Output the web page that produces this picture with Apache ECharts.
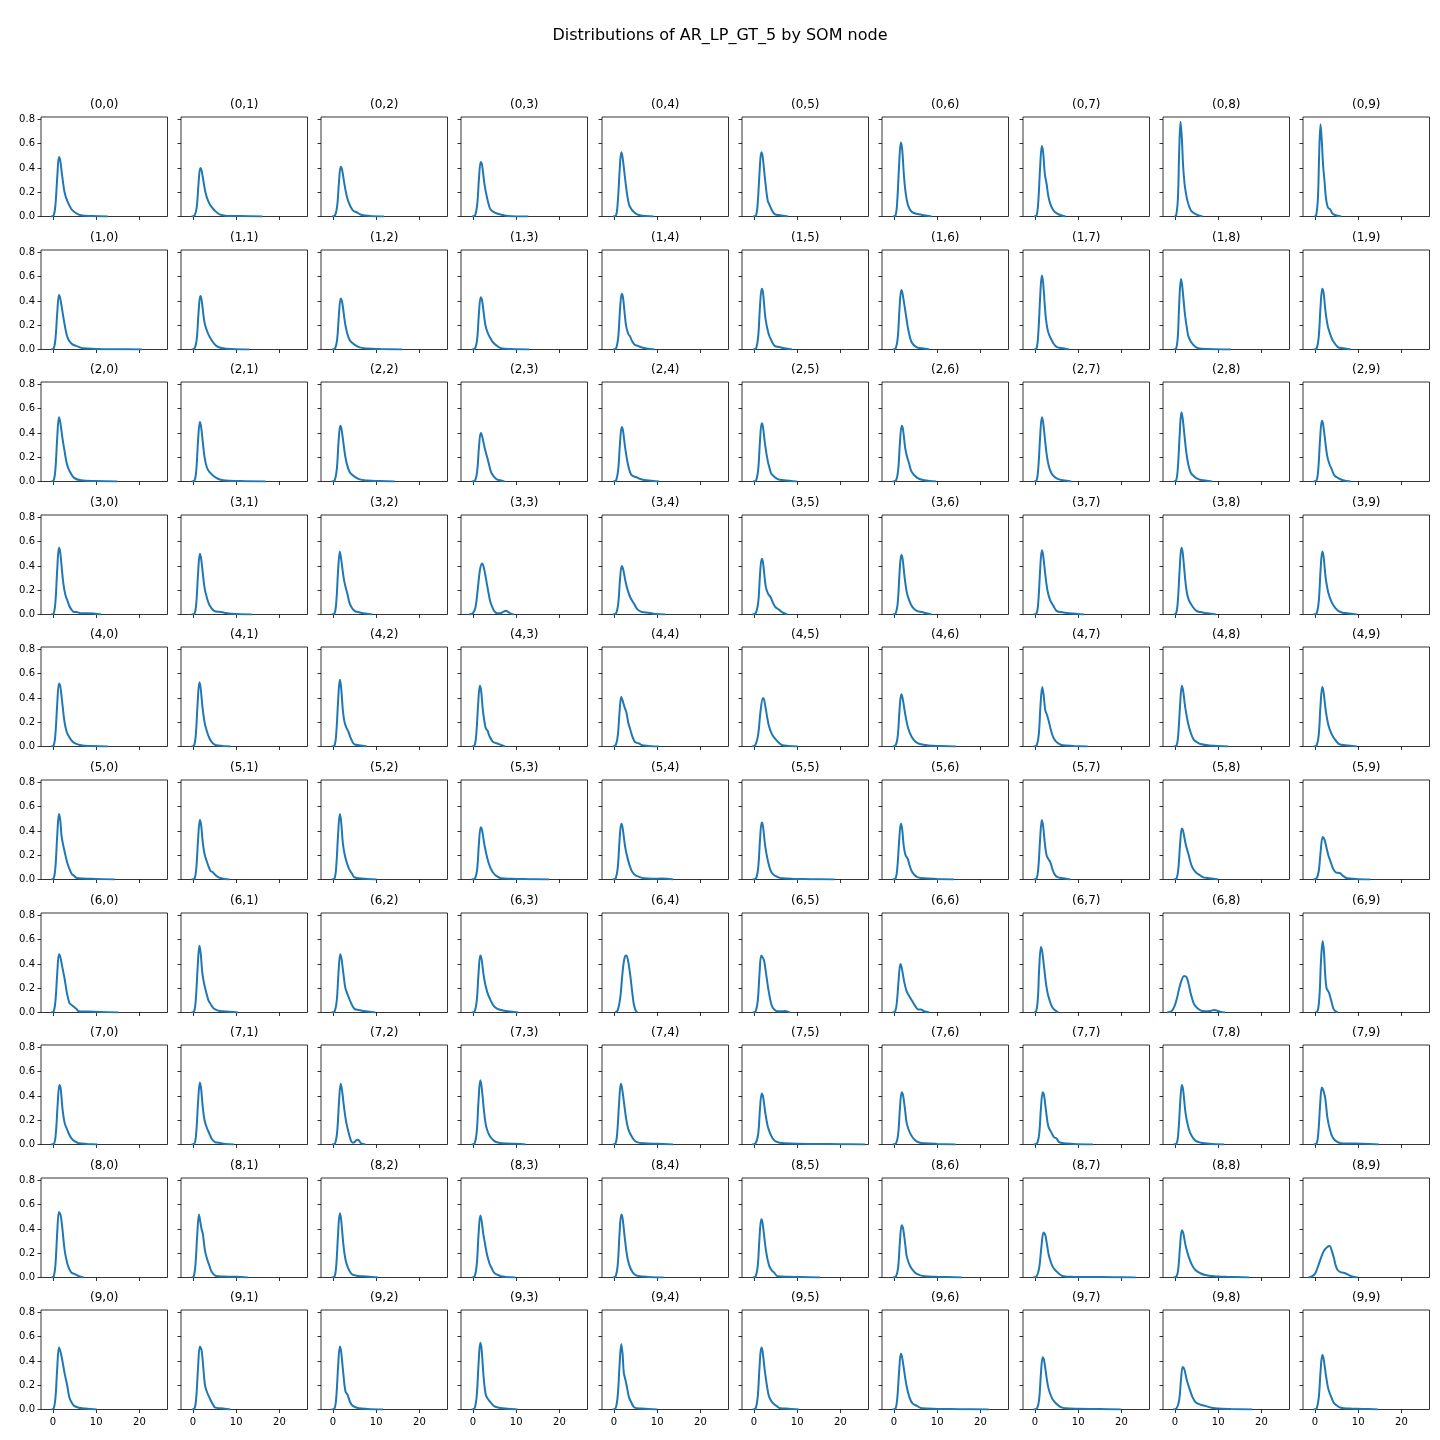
<!DOCTYPE html>
<html>
<head>
<meta charset="utf-8">
<script src="https://cdn.jsdelivr.net/npm/echarts@6/dist/echarts.min.js"></script>
<style>
html,body{margin:0;padding:0;background:#fff;}
#chart{width:1440px;height:1440px;}
</style>
</head>
<body>
<div id="chart"></div>
<script>
const chartTitle = 'Distributions of AR_LP_GT_5 by SOM node';
const xTicks = [0, 10, 20];
const yTicks = [0, 0.2, 0.4, 0.6, 0.8];
const xRange = [-2.75, 26.5];
const yRange = [0, 0.82];

// KDE curves, one array per SOM row; each curve is a list of [x, density] points
const row0 = [
 [[-0.4,0],[0.2,0.01],[0.6,0.1],[1.0,0.32],[1.4,0.49],[1.7,0.46],[2.2,0.32],[2.7,0.2],[3.3,0.13],[4.3,0.06],[5.4,0.027],[6.5,0.01],[9,0.004],[12.7,0]],
 [[-0.3,0],[0.4,0.01],[0.9,0.08],[1.3,0.27],[1.7,0.40],[2.0,0.38],[2.9,0.2],[3.5,0.13],[4.1,0.09],[5.3,0.04],[6.3,0.015],[8,0.005],[11,0.004],[16.1,0]],
 [[-0.2,0],[0.5,0.01],[1.0,0.09],[1.4,0.28],[1.8,0.41],[2.1,0.39],[2.9,0.22],[3.6,0.12],[4.6,0.05],[5.5,0.035],[6.5,0.015],[8.5,0.005],[11.8,0]],
 [[-0.2,0],[0.5,0.01],[1.0,0.1],[1.4,0.31],[1.8,0.45],[2.1,0.43],[2.7,0.26],[3.3,0.15],[3.9,0.07],[4.3,0.05],[5.2,0.03],[6,0.02],[8,0.005],[12.8,0]],
 [[-0.2,0],[0.5,0.01],[0.9,0.12],[1.3,0.36],[1.7,0.53],[2.0,0.49],[2.8,0.25],[3.3,0.13],[3.7,0.08],[4.8,0.03],[6,0.01],[9.2,0]],
 [[-0.2,0],[0.5,0.01],[0.9,0.12],[1.3,0.36],[1.7,0.53],[2.0,0.5],[2.6,0.3],[3.2,0.13],[3.7,0.09],[4.2,0.05],[4.8,0.02],[6,0.01],[7.9,0]],
 [[-0.2,0],[0.4,0.01],[0.8,0.14],[1.2,0.42],[1.6,0.61],[1.9,0.56],[2.3,0.35],[2.7,0.2],[3.3,0.09],[4.1,0.04],[5.5,0.02],[8.7,0]],
 [[-0.2,0],[0.4,0.01],[0.8,0.13],[1.2,0.4],[1.6,0.58],[1.9,0.53],[2.3,0.35],[2.7,0.27],[3.1,0.17],[3.6,0.1],[4.3,0.05],[4.9,0.03],[6,0.01],[7.1,0]],
 [[-0.1,0],[0.3,0.01],[0.7,0.15],[1.0,0.55],[1.3,0.78],[1.6,0.65],[1.9,0.42],[2.3,0.25],[2.9,0.13],[3.7,0.05],[4.8,0.02],[6.4,0]],
 [[-0.1,0],[0.3,0.01],[0.7,0.15],[1.0,0.53],[1.3,0.76],[1.6,0.62],[1.9,0.42],[2.2,0.3],[2.5,0.17],[2.8,0.1],[3.1,0.07],[3.5,0.06],[4.2,0.02],[6.1,0]]
];
const row1 = [
 [[-0.4,0],[0.2,0.01],[0.6,0.09],[1.0,0.3],[1.4,0.45],[1.7,0.42],[2.5,0.25],[3.2,0.12],[3.8,0.07],[4.6,0.04],[5.4,0.03],[7,0.01],[10,0.005],[14,0.002],[20.6,0]],
 [[-0.3,0],[0.4,0.01],[0.9,0.09],[1.3,0.3],[1.7,0.44],[2.0,0.41],[2.7,0.22],[3.4,0.14],[4.1,0.09],[5.4,0.03],[7,0.01],[9,0.004],[13,0]],
 [[-0.2,0],[0.5,0.01],[1.0,0.09],[1.4,0.29],[1.8,0.42],[2.1,0.4],[2.9,0.2],[3.6,0.1],[4.3,0.06],[6,0.02],[8,0.008],[11,0.004],[16,0]],
 [[-0.2,0],[0.5,0.01],[1.0,0.09],[1.4,0.3],[1.8,0.43],[2.1,0.41],[2.9,0.2],[3.5,0.13],[4.1,0.09],[4.6,0.06],[5.2,0.04],[6.5,0.01],[9,0.004],[13,0]],
 [[-0.2,0],[0.5,0.01],[1.0,0.1],[1.4,0.32],[1.8,0.46],[2.1,0.43],[2.8,0.2],[3.3,0.13],[3.7,0.11],[4.2,0.07],[4.8,0.04],[5.5,0.03],[6.7,0.015],[9.4,0]],
 [[-0.2,0],[0.5,0.01],[1.0,0.11],[1.4,0.35],[1.8,0.5],[2.1,0.47],[2.7,0.25],[3.4,0.13],[4.1,0.07],[4.8,0.03],[5.9,0.02],[7,0.01],[8.8,0]],
 [[-0.3,0],[0.4,0.01],[0.9,0.1],[1.3,0.34],[1.7,0.49],[2.0,0.46],[2.8,0.28],[3.4,0.15],[4.1,0.06],[5.2,0.02],[6.5,0.01],[8.2,0]],
 [[-0.2,0],[0.4,0.01],[0.8,0.14],[1.2,0.42],[1.6,0.61],[1.9,0.55],[2.5,0.27],[2.9,0.17],[3.3,0.12],[4.3,0.05],[5.1,0.02],[6.5,0.01],[7.9,0]],
 [[-0.3,0],[0.3,0.01],[0.7,0.12],[1.0,0.38],[1.4,0.58],[1.7,0.52],[2.3,0.3],[2.8,0.17],[3.2,0.1],[4.2,0.04],[5.4,0.01],[8,0.004],[13,0]],
 [[-0.3,0],[0.4,0.01],[0.9,0.11],[1.3,0.35],[1.7,0.5],[2.0,0.47],[2.5,0.3],[3.0,0.19],[3.6,0.12],[4.2,0.07],[5.3,0.02],[6.5,0.01],[8.3,0]]
];
const row2 = [
 [[-0.4,0],[0.2,0.01],[0.6,0.11],[1.0,0.36],[1.4,0.53],[1.7,0.49],[2.2,0.36],[2.7,0.25],[3.2,0.15],[3.8,0.09],[4.9,0.03],[6.5,0.01],[10,0.004],[14.9,0]],
 [[-0.3,0],[0.4,0.01],[0.8,0.1],[1.2,0.34],[1.6,0.49],[1.9,0.45],[2.7,0.2],[3.2,0.12],[3.8,0.08],[5.4,0.03],[7,0.01],[11,0.004],[16.8,0]],
 [[-0.3,0],[0.4,0.01],[0.9,0.1],[1.3,0.32],[1.7,0.46],[2.0,0.43],[2.9,0.2],[3.6,0.1],[4.3,0.06],[6,0.02],[8,0.008],[11,0.004],[14.3,0]],
 [[-0.3,0],[0.5,0.01],[1.0,0.09],[1.4,0.28],[1.8,0.4],[2.1,0.38],[2.7,0.28],[3.3,0.2],[3.8,0.13],[4.3,0.07],[5.4,0.02],[6.3,0.01],[7.3,0]],
 [[-0.2,0],[0.5,0.01],[1.0,0.1],[1.4,0.31],[1.8,0.45],[2.1,0.42],[2.6,0.28],[3.2,0.15],[3.7,0.08],[4.2,0.05],[5.2,0.035],[6.1,0.02],[7.5,0.01],[10.5,0]],
 [[-0.2,0],[0.5,0.01],[1.0,0.1],[1.4,0.33],[1.8,0.48],[2.1,0.45],[2.6,0.3],[3.2,0.17],[3.7,0.1],[4.1,0.06],[5.5,0.02],[7,0.01],[9.9,0]],
 [[-0.3,0],[0.5,0.01],[1.0,0.1],[1.4,0.32],[1.8,0.46],[2.1,0.43],[2.6,0.28],[3.0,0.21],[3.5,0.15],[4.1,0.08],[5.4,0.03],[7,0.01],[9.8,0]],
 [[-0.2,0],[0.4,0.01],[0.8,0.12],[1.2,0.36],[1.6,0.53],[1.9,0.49],[2.7,0.23],[3.2,0.13],[3.8,0.07],[4.5,0.04],[5.4,0.02],[6.5,0.01],[8.4,0]],
 [[-0.3,0],[0.3,0.01],[0.7,0.12],[1.1,0.38],[1.5,0.57],[1.8,0.52],[2.6,0.25],[3.1,0.14],[3.7,0.07],[4.5,0.04],[5.4,0.02],[6.5,0.01],[8.6,0]],
 [[-0.3,0],[0.4,0.01],[0.8,0.11],[1.2,0.35],[1.6,0.5],[1.9,0.47],[2.8,0.22],[3.3,0.15],[3.9,0.1],[4.5,0.05],[5.3,0.03],[6.5,0.01],[8.3,0]]
];
const row3 = [
 [[-0.4,0],[0.2,0.01],[0.6,0.11],[1.0,0.37],[1.4,0.55],[1.7,0.51],[2.4,0.26],[2.9,0.16],[3.3,0.12],[3.8,0.07],[4.3,0.04],[4.9,0.02],[5.4,0.02],[6.5,0.01],[8,0.01],[11.2,0]],
 [[-0.3,0],[0.4,0.01],[0.8,0.1],[1.2,0.34],[1.6,0.5],[1.9,0.46],[2.7,0.22],[3.3,0.13],[3.8,0.08],[4.9,0.03],[6.5,0.02],[9,0.006],[13.6,0]],
 [[-0.3,0],[0.4,0.01],[0.8,0.11],[1.2,0.36],[1.6,0.52],[1.9,0.46],[2.5,0.3],[2.9,0.23],[3.3,0.18],[3.8,0.1],[4.3,0.06],[5,0.03],[5.8,0.02],[7,0.01],[9.1,0]],
 [[-0.9,0],[0,0.01],[0.6,0.06],[1.1,0.2],[1.6,0.36],[2.1,0.42],[2.5,0.39],[3.0,0.3],[3.5,0.2],[4.0,0.11],[4.5,0.06],[5.0,0.025],[5.6,0.01],[6.3,0.01],[6.9,0.02],[7.6,0.03],[8.2,0.02],[8.8,0.007],[9.5,0]],
 [[-0.3,0],[0.5,0.01],[1.0,0.09],[1.4,0.28],[1.8,0.4],[2.1,0.38],[2.7,0.27],[3.2,0.2],[3.8,0.14],[4.8,0.08],[5.5,0.04],[6.5,0.02],[8,0.015],[9.5,0.005],[11.9,0]],
 [[-0.4,0],[0.4,0.01],[1.0,0.1],[1.4,0.32],[1.8,0.46],[2.1,0.43],[2.5,0.3],[2.8,0.22],[3.3,0.17],[3.9,0.14],[4.5,0.09],[5,0.06],[5.8,0.04],[6.5,0.02],[7.7,0]],
 [[-0.3,0],[0.4,0.01],[0.9,0.1],[1.3,0.34],[1.7,0.49],[2.0,0.46],[2.5,0.3],[3.0,0.18],[3.6,0.11],[4.3,0.06],[5.3,0.03],[6.5,0.02],[7.5,0.01],[8.7,0]],
 [[-0.3,0],[0.4,0.01],[0.8,0.11],[1.2,0.36],[1.6,0.53],[1.9,0.49],[2.4,0.33],[2.9,0.2],[3.5,0.12],[4.3,0.07],[5,0.03],[6,0.02],[8,0.01],[11.4,0]],
 [[-0.3,0],[0.3,0.01],[0.7,0.12],[1.1,0.37],[1.5,0.55],[1.8,0.51],[2.6,0.22],[3.2,0.12],[4.2,0.06],[5,0.03],[5.9,0.02],[7.5,0.01],[9.5,0]],
 [[-0.3,0],[0.4,0.01],[0.9,0.11],[1.3,0.36],[1.7,0.52],[2.0,0.48],[2.5,0.3],[3.1,0.18],[3.9,0.1],[4.8,0.05],[5.6,0.025],[6.4,0.015],[7.5,0.01],[9.7,0]]
];
const row4 = [
 [[-0.4,0],[0.2,0.01],[0.6,0.11],[1.0,0.35],[1.4,0.52],[1.7,0.5],[2.2,0.35],[2.7,0.2],[3.2,0.12],[3.6,0.09],[4.3,0.05],[4.9,0.03],[6.5,0.01],[9,0.004],[12.7,0]],
 [[-0.3,0],[0.3,0.01],[0.7,0.11],[1.1,0.36],[1.5,0.53],[1.8,0.48],[2.2,0.33],[2.7,0.2],[3.2,0.13],[3.8,0.07],[4.5,0.03],[5.4,0.01],[7,0.005],[8.7,0]],
 [[-0.3,0],[0.4,0.01],[0.8,0.12],[1.2,0.37],[1.6,0.55],[1.9,0.49],[2.3,0.3],[2.7,0.2],[3.2,0.15],[3.6,0.12],[4.0,0.08],[4.5,0.04],[4.9,0.02],[6,0.01],[7.9,0]],
 [[-0.3,0],[0.4,0.01],[0.8,0.11],[1.2,0.34],[1.6,0.5],[1.9,0.46],[2.3,0.3],[2.7,0.2],[3.0,0.15],[3.4,0.13],[3.9,0.08],[4.6,0.04],[5.2,0.03],[6,0.02],[6.7,0.01],[7.4,0]],
 [[-0.3,0],[0.4,0.01],[0.9,0.09],[1.3,0.28],[1.7,0.41],[2.0,0.38],[2.5,0.32],[2.9,0.28],[3.3,0.2],[3.7,0.15],[4.3,0.08],[4.8,0.04],[5.3,0.03],[5.8,0.025],[6.5,0.01],[8,0.005],[10.4,0]],
 [[-0.5,0],[0.3,0.01],[1.0,0.1],[1.5,0.28],[2.1,0.4],[2.4,0.38],[3.4,0.18],[4.2,0.1],[5,0.06],[5.8,0.03],[6.6,0.01],[8,0.005],[10.1,0]],
 [[-0.3,0],[0.4,0.01],[0.9,0.09],[1.3,0.3],[1.7,0.43],[2.0,0.4],[2.7,0.25],[3.3,0.15],[4.1,0.08],[5,0.04],[6,0.02],[8,0.008],[11,0.004],[14.3,0]],
 [[-0.3,0],[0.4,0.01],[0.9,0.1],[1.3,0.34],[1.7,0.49],[2.0,0.43],[2.4,0.3],[2.8,0.26],[3.2,0.21],[3.6,0.15],[4.2,0.08],[4.9,0.04],[5.7,0.02],[6.5,0.01],[9,0.005],[12.2,0]],
 [[-0.3,0],[0.4,0.01],[0.8,0.11],[1.2,0.34],[1.6,0.5],[1.9,0.46],[2.4,0.32],[3.0,0.2],[3.6,0.12],[4.3,0.06],[5.1,0.035],[5.9,0.02],[8,0.008],[12.4,0]],
 [[-0.3,0],[0.4,0.01],[0.9,0.1],[1.3,0.34],[1.7,0.49],[2.0,0.45],[2.5,0.3],[3.1,0.18],[3.9,0.1],[4.8,0.05],[5.6,0.02],[7,0.01],[9.7,0]]
];
const row5 = [
 [[-0.4,0],[0.2,0.01],[0.6,0.11],[1.0,0.36],[1.4,0.54],[1.7,0.49],[2.0,0.36],[2.4,0.28],[2.9,0.2],[3.3,0.14],[3.8,0.09],[4.3,0.05],[4.9,0.03],[5.4,0.015],[7,0.008],[10,0.005],[14.3,0]],
 [[-0.3,0],[0.4,0.01],[0.8,0.1],[1.2,0.33],[1.6,0.49],[1.9,0.45],[2.3,0.3],[2.7,0.21],[3.2,0.15],[3.7,0.1],[4.1,0.07],[4.6,0.06],[5.4,0.03],[6.5,0.01],[8.4,0]],
 [[-0.3,0],[0.4,0.01],[0.8,0.12],[1.2,0.37],[1.6,0.54],[1.9,0.48],[2.3,0.3],[2.7,0.21],[3.2,0.14],[3.6,0.1],[4.0,0.07],[4.4,0.05],[4.9,0.02],[6,0.01],[8,0.005],[10.1,0]],
 [[-0.3,0],[0.5,0.01],[1.0,0.09],[1.4,0.3],[1.8,0.43],[2.1,0.41],[2.7,0.28],[3.3,0.18],[4.0,0.1],[4.6,0.06],[5.4,0.03],[6.5,0.01],[9,0.006],[13,0.003],[17.6,0]],
 [[-0.3,0],[0.4,0.01],[0.9,0.1],[1.3,0.32],[1.7,0.46],[2.0,0.43],[2.6,0.27],[3.2,0.17],[4.0,0.08],[4.8,0.04],[6,0.02],[7,0.01],[9,0.006],[11,0.008],[13.7,0]],
 [[-0.3,0],[0.5,0.01],[1.0,0.1],[1.4,0.32],[1.8,0.47],[2.1,0.44],[2.6,0.28],[3.2,0.16],[3.8,0.08],[4.5,0.04],[5.5,0.02],[6.6,0.01],[9,0.005],[13,0.003],[18.6,0]],
 [[-0.3,0],[0.4,0.01],[0.8,0.1],[1.2,0.31],[1.6,0.46],[1.9,0.42],[2.3,0.27],[2.7,0.2],[3.2,0.17],[3.6,0.12],[4.1,0.07],[4.7,0.04],[5.4,0.02],[7,0.01],[10,0.005],[13.9,0]],
 [[-0.3,0],[0.4,0.01],[0.8,0.1],[1.2,0.33],[1.6,0.49],[1.9,0.44],[2.3,0.3],[2.7,0.2],[3.1,0.17],[3.6,0.14],[4.1,0.08],[4.6,0.04],[5.2,0.02],[6.5,0.01],[8.2,0]],
 [[-0.3,0],[0.4,0.01],[0.8,0.09],[1.2,0.29],[1.6,0.42],[1.9,0.4],[2.5,0.29],[3.2,0.2],[3.9,0.11],[4.8,0.06],[5.6,0.04],[6.4,0.02],[8,0.01],[10,0]],
 [[-0.4,0],[0.4,0.01],[0.9,0.07],[1.3,0.22],[1.8,0.35],[2.2,0.33],[2.7,0.26],[3.1,0.2],[3.6,0.15],[4.2,0.09],[4.8,0.06],[5.4,0.055],[5.9,0.05],[6.5,0.03],[7.5,0.01],[9.5,0.005],[12.8,0]]
];
const row6 = [
 [[-0.4,0],[0.2,0.01],[0.6,0.1],[1.0,0.32],[1.4,0.48],[1.7,0.46],[2.2,0.37],[2.7,0.28],[3.2,0.17],[3.8,0.08],[4.4,0.06],[5.4,0.03],[6,0.01],[8,0.008],[11,0.005],[15.2,0]],
 [[-0.3,0],[0.3,0.01],[0.7,0.12],[1.1,0.37],[1.5,0.55],[1.8,0.49],[2.2,0.32],[2.7,0.22],[3.2,0.15],[3.6,0.1],[4.1,0.07],[4.9,0.03],[5.9,0.015],[7,0.01],[10.4,0]],
 [[-0.3,0],[0.4,0.01],[0.9,0.1],[1.3,0.33],[1.7,0.48],[2.0,0.44],[2.5,0.3],[2.9,0.2],[3.5,0.14],[4.3,0.07],[5,0.03],[6,0.02],[7.5,0.01],[9.8,0]],
 [[-0.3,0],[0.4,0.01],[0.9,0.1],[1.3,0.32],[1.7,0.47],[2.0,0.44],[2.6,0.28],[3.3,0.17],[4.1,0.1],[4.9,0.05],[5.7,0.03],[6.5,0.02],[8,0.01],[10.5,0]],
 [[0.3,0],[0.9,0.02],[1.5,0.13],[2.0,0.33],[2.4,0.44],[2.8,0.47],[3.2,0.44],[3.7,0.33],[4.2,0.18],[4.6,0.07],[5.0,0.02],[5.4,0]],
 [[-0.3,0],[0.4,0.01],[0.9,0.1],[1.3,0.32],[1.7,0.47],[2.1,0.45],[2.4,0.42],[2.9,0.3],[3.4,0.18],[4.1,0.06],[4.7,0.025],[5.5,0.01],[6.4,0.01],[7.2,0.012],[8.3,0]],
 [[-0.4,0],[0.3,0.01],[0.7,0.09],[1.1,0.27],[1.5,0.4],[1.8,0.37],[2.4,0.25],[2.9,0.18],[3.3,0.15],[3.8,0.12],[4.3,0.09],[5,0.05],[5.6,0.025],[6.2,0.025],[7,0.01],[8.2,0]],
 [[-0.2,0],[0.3,0.01],[0.7,0.12],[1.0,0.37],[1.4,0.54],[1.7,0.5],[2.2,0.35],[2.6,0.23],[3.0,0.15],[3.4,0.1],[3.8,0.06],[4.3,0.03],[5.4,0]],
 [[-1.8,0],[-0.8,0.01],[-0.1,0.05],[0.5,0.12],[1.0,0.2],[1.6,0.27],[2.1,0.3],[2.7,0.29],[3.2,0.23],[3.7,0.15],[4.3,0.08],[4.8,0.05],[5.6,0.025],[6.4,0.012],[7.5,0.01],[8.4,0.015],[9.1,0.02],[9.8,0.015],[10.5,0.005],[11.6,0]],
 [[0.2,0],[0.7,0.02],[1.1,0.16],[1.4,0.42],[1.8,0.59],[2.1,0.5],[2.4,0.3],[2.7,0.2],[3.0,0.18],[3.3,0.16],[3.6,0.12],[3.9,0.08],[4.3,0.03],[4.8,0.01],[5.3,0]]
];
const row7 = [
 [[-0.4,0],[0.3,0.01],[0.7,0.1],[1.1,0.33],[1.5,0.49],[1.8,0.46],[2.2,0.3],[2.7,0.18],[3.2,0.13],[3.8,0.08],[4.3,0.05],[4.9,0.03],[6,0.01],[8,0.005],[10.3,0]],
 [[-0.3,0],[0.4,0.01],[0.8,0.11],[1.2,0.35],[1.6,0.51],[1.9,0.46],[2.3,0.3],[2.7,0.2],[3.2,0.14],[3.8,0.09],[4.3,0.05],[5.1,0.02],[6,0.015],[7.5,0.005],[9.5,0]],
 [[-0.2,0],[0.5,0.01],[1.0,0.11],[1.4,0.34],[1.8,0.5],[2.1,0.45],[2.6,0.3],[3.1,0.18],[3.7,0.09],[4.2,0.03],[4.6,0.015],[5.0,0.02],[5.4,0.035],[5.7,0.04],[6.1,0.03],[6.5,0.01],[7.0,0.005],[7.5,0]],
 [[-0.3,0],[0.4,0.01],[0.9,0.11],[1.3,0.36],[1.7,0.53],[2.0,0.48],[2.5,0.3],[2.9,0.18],[3.3,0.12],[3.9,0.07],[4.9,0.03],[6,0.015],[8,0.008],[10,0.006],[12.2,0]],
 [[-0.3,0],[0.4,0.01],[0.8,0.11],[1.2,0.34],[1.6,0.5],[1.9,0.46],[2.8,0.22],[3.3,0.13],[3.9,0.08],[4.6,0.04],[5.3,0.02],[7,0.01],[10,0.006],[13.7,0]],
 [[-0.4,0],[0.4,0.01],[1.0,0.09],[1.4,0.29],[1.8,0.42],[2.1,0.4],[2.6,0.27],[3.2,0.15],[3.9,0.08],[4.8,0.03],[6,0.015],[7.2,0.01],[10,0.006],[15,0.004],[20,0.003],[25.7,0]],
 [[-0.3,0],[0.5,0.01],[1.0,0.09],[1.4,0.3],[1.8,0.43],[2.1,0.41],[2.6,0.28],[3.0,0.17],[3.8,0.09],[4.9,0.035],[6,0.015],[7.1,0.01],[10,0.005],[14.3,0]],
 [[-0.3,0],[0.5,0.01],[1.0,0.09],[1.4,0.3],[1.8,0.43],[2.1,0.41],[2.6,0.27],[3.1,0.15],[3.8,0.1],[4.4,0.06],[5.0,0.05],[5.6,0.02],[6.6,0.01],[9,0.005],[13.4,0]],
 [[-0.3,0],[0.4,0.01],[0.8,0.1],[1.2,0.33],[1.6,0.49],[1.9,0.45],[2.5,0.25],[3.2,0.13],[3.9,0.07],[4.8,0.03],[6,0.015],[8,0.006],[11.4,0]],
 [[-0.3,0],[0.4,0.01],[0.8,0.1],[1.2,0.32],[1.6,0.47],[2.0,0.44],[2.4,0.38],[2.9,0.22],[3.5,0.12],[4.1,0.06],[4.8,0.03],[6,0.01],[8,0.008],[11,0.006],[14.8,0]]
];
const row8 = [
 [[-0.3,0],[0.2,0.01],[0.6,0.11],[1.0,0.37],[1.4,0.54],[1.8,0.51],[2.2,0.4],[2.7,0.23],[3.3,0.12],[3.8,0.07],[4.3,0.04],[5,0.03],[6,0.01],[7.1,0]],
 [[-0.3,0],[0.2,0.01],[0.6,0.11],[1.0,0.35],[1.4,0.52],[1.7,0.46],[2.0,0.4],[2.3,0.36],[2.8,0.22],[3.3,0.15],[3.8,0.1],[4.3,0.05],[5.4,0.012],[7,0.008],[10,0.006],[12.7,0]],
 [[-0.3,0],[0.4,0.01],[0.8,0.11],[1.2,0.36],[1.6,0.53],[1.9,0.48],[2.4,0.28],[2.9,0.15],[3.5,0.08],[4.3,0.03],[5.4,0.015],[7,0.01],[10.5,0]],
 [[-0.3,0],[0.4,0.01],[0.9,0.11],[1.3,0.35],[1.7,0.51],[2.0,0.47],[2.4,0.36],[2.7,0.3],[3.2,0.2],[3.8,0.12],[4.3,0.08],[4.9,0.04],[5.5,0.025],[6.5,0.01],[7.5,0.005],[9.8,0]],
 [[-0.3,0],[0.4,0.01],[0.9,0.11],[1.3,0.36],[1.7,0.52],[2.0,0.49],[2.6,0.3],[3.2,0.15],[3.9,0.07],[4.8,0.025],[6,0.01],[8,0.005],[11.5,0]],
 [[-0.3,0],[0.4,0.01],[0.9,0.1],[1.3,0.33],[1.7,0.48],[2.0,0.45],[2.8,0.22],[3.5,0.1],[4.1,0.06],[4.7,0.04],[5.5,0.01],[8,0.006],[11,0.004],[15.3,0]],
 [[-0.3,0],[0.5,0.01],[1.0,0.09],[1.4,0.3],[1.8,0.43],[2.1,0.41],[2.6,0.28],[3.0,0.17],[3.8,0.09],[4.9,0.04],[6,0.02],[7.1,0.01],[10,0.006],[15.7,0]],
 [[-0.4,0],[0.4,0.01],[1.0,0.08],[1.5,0.25],[2.0,0.37],[2.4,0.35],[2.8,0.27],[3.3,0.17],[4.1,0.09],[5,0.05],[5.8,0.025],[6.6,0.01],[9,0.005],[13,0.004],[18,0.003],[23.3,0]],
 [[-0.4,0],[0.4,0.01],[0.8,0.08],[1.2,0.26],[1.6,0.39],[1.9,0.37],[2.5,0.26],[3.2,0.17],[4.0,0.1],[4.8,0.06],[5.9,0.035],[7,0.02],[9,0.01],[12,0.006],[17.2,0]],
 [[-1.5,0],[-0.7,0.01],[0,0.03],[0.5,0.07],[1.0,0.12],[1.6,0.18],[2.1,0.22],[2.8,0.25],[3.4,0.26],[3.9,0.22],[4.4,0.16],[4.8,0.1],[5.3,0.06],[5.9,0.045],[6.5,0.04],[7.0,0.035],[7.5,0.025],[8.1,0.015],[8.6,0.008],[9.9,0]]
];
const row9 = [
 [[-0.3,0],[0.2,0.01],[0.6,0.1],[1.0,0.34],[1.4,0.51],[1.8,0.47],[2.2,0.4],[2.7,0.3],[3.3,0.2],[3.8,0.1],[4.3,0.06],[4.9,0.03],[6,0.015],[7.5,0.008],[10.1,0]],
 [[-0.2,0],[0.4,0.01],[0.8,0.11],[1.2,0.35],[1.6,0.52],[2.0,0.49],[2.4,0.35],[2.8,0.2],[3.3,0.14],[3.8,0.1],[4.5,0.05],[5.2,0.015],[6.5,0.01],[8.7,0]],
 [[-0.3,0],[0.4,0.01],[0.8,0.11],[1.2,0.35],[1.6,0.52],[1.9,0.48],[2.4,0.3],[2.9,0.15],[3.4,0.12],[4.0,0.06],[4.6,0.03],[6,0.01],[8,0.005],[11.6,0]],
 [[-0.3,0],[0.4,0.01],[0.9,0.12],[1.3,0.37],[1.7,0.55],[2.0,0.5],[2.5,0.26],[3.0,0.12],[3.6,0.08],[4.3,0.05],[5,0.025],[6,0.015],[8,0.006],[10.3,0]],
 [[-0.3,0],[0.4,0.01],[0.9,0.12],[1.3,0.36],[1.7,0.54],[2.0,0.46],[2.3,0.3],[2.7,0.24],[3.1,0.17],[3.5,0.1],[4.0,0.06],[4.8,0.015],[6.5,0.008],[10,0]],
 [[-0.3,0],[0.4,0.01],[0.9,0.11],[1.3,0.35],[1.7,0.51],[2.0,0.48],[2.6,0.3],[3.4,0.12],[4.0,0.07],[4.5,0.05],[5.2,0.03],[6.1,0.01],[7.5,0.008],[10.4,0]],
 [[-0.3,0],[0.4,0.01],[0.8,0.1],[1.2,0.31],[1.6,0.46],[1.9,0.43],[2.9,0.2],[3.6,0.1],[4.3,0.05],[5.3,0.03],[6.5,0.01],[10,0.005],[15,0.003],[21.9,0]],
 [[-0.3,0],[0.5,0.01],[1.0,0.09],[1.4,0.3],[1.8,0.43],[2.1,0.41],[3.1,0.18],[4.0,0.09],[4.9,0.05],[6,0.02],[7.1,0.01],[10,0.006],[15,0.004],[19.9,0]],
 [[-0.4,0],[0.4,0.01],[1.0,0.08],[1.4,0.24],[1.8,0.35],[2.2,0.33],[2.7,0.25],[3.3,0.18],[4.1,0.1],[4.8,0.06],[5.9,0.04],[7,0.03],[8.5,0.015],[10,0.008],[13,0.004],[17.9,0]],
 [[-0.3,0],[0.4,0.01],[0.9,0.1],[1.3,0.31],[1.7,0.45],[2.0,0.42],[2.6,0.27],[3.1,0.17],[3.7,0.11],[4.3,0.06],[4.8,0.04],[6,0.015],[8,0.008],[11,0.005],[14.6,0]]
];
const rows = [row0, row1, row2, row3, row4, row5, row6, row7, row8, row9];

// layout (pixels)
const LEFT0 = 40.5, COL_PITCH = 140.3, PW = 126.5;
const TOP0 = 117, ROW_PITCH = 132.6, PH = 99.5;
const FONT = 'DejaVu Sans';
const LINE = '#1f77b4';

const grid = [], xAxis = [], yAxis = [], series = [], title = [];
title.push({
  text: chartTitle, left: 'center', top: 28, padding: 0,
  textStyle: {fontFamily: FONT, fontSize: 16, fontWeight: 'normal', color: '#000'}
});
rows.forEach((row, r) => {
  row.forEach((curve, c) => {
    const i = r * 10 + c;
    const left = Math.round(LEFT0 + c * COL_PITCH);
    const top = Math.round(TOP0 + r * ROW_PITCH);
    grid.push({
      left: left, top: top, width: PW, height: PH,
      show: true, borderColor: '#000', borderWidth: 0.8, backgroundColor: '#fff',
      containLabel: false
    });
    title.push({
      text: '(' + r + ',' + c + ')', left: left + PW / 2, top: top - 18, padding: 0,
      textAlign: 'center',
      textStyle: {fontFamily: FONT, fontSize: 12, fontWeight: 'normal', color: '#000'}
    });
    xAxis.push({
      type: 'value', gridIndex: i, min: xRange[0], max: xRange[1], position: 'bottom',
      axisLine: {show: false, onZero: false}, splitLine: {show: false},
      axisTick: {show: true, inside: false, length: 3.5, customValues: xTicks, lineStyle: {color: '#000', width: 0.8}},
      axisLabel: {show: r === 9, customValues: xTicks, margin: 8, fontFamily: FONT, fontSize: 10, color: '#000'}
    });
    yAxis.push({
      type: 'value', gridIndex: i, min: yRange[0], max: yRange[1], position: 'left',
      axisLine: {show: false, onZero: false}, splitLine: {show: false},
      axisTick: {show: true, inside: false, length: 3.5, customValues: yTicks, lineStyle: {color: '#000', width: 0.8}},
      axisLabel: {show: c === 0, customValues: yTicks, margin: 6, fontFamily: FONT, fontSize: 10, color: '#000',
        formatter: v => Number(v).toFixed(1)}
    });
    series.push({
      type: 'line', xAxisIndex: i, yAxisIndex: i, data: curve,
      showSymbol: false, smooth: 0.35, silent: true, animation: false,
      lineStyle: {color: LINE, width: 2}
    });
  });
});

const chart = echarts.init(document.getElementById('chart'), null, {renderer: 'canvas'});
chart.setOption({
  backgroundColor: '#fff', animation: false,
  title: title, grid: grid, xAxis: xAxis, yAxis: yAxis, series: series,
  tooltip: {show: false}
});
</script>
</body>
</html>
